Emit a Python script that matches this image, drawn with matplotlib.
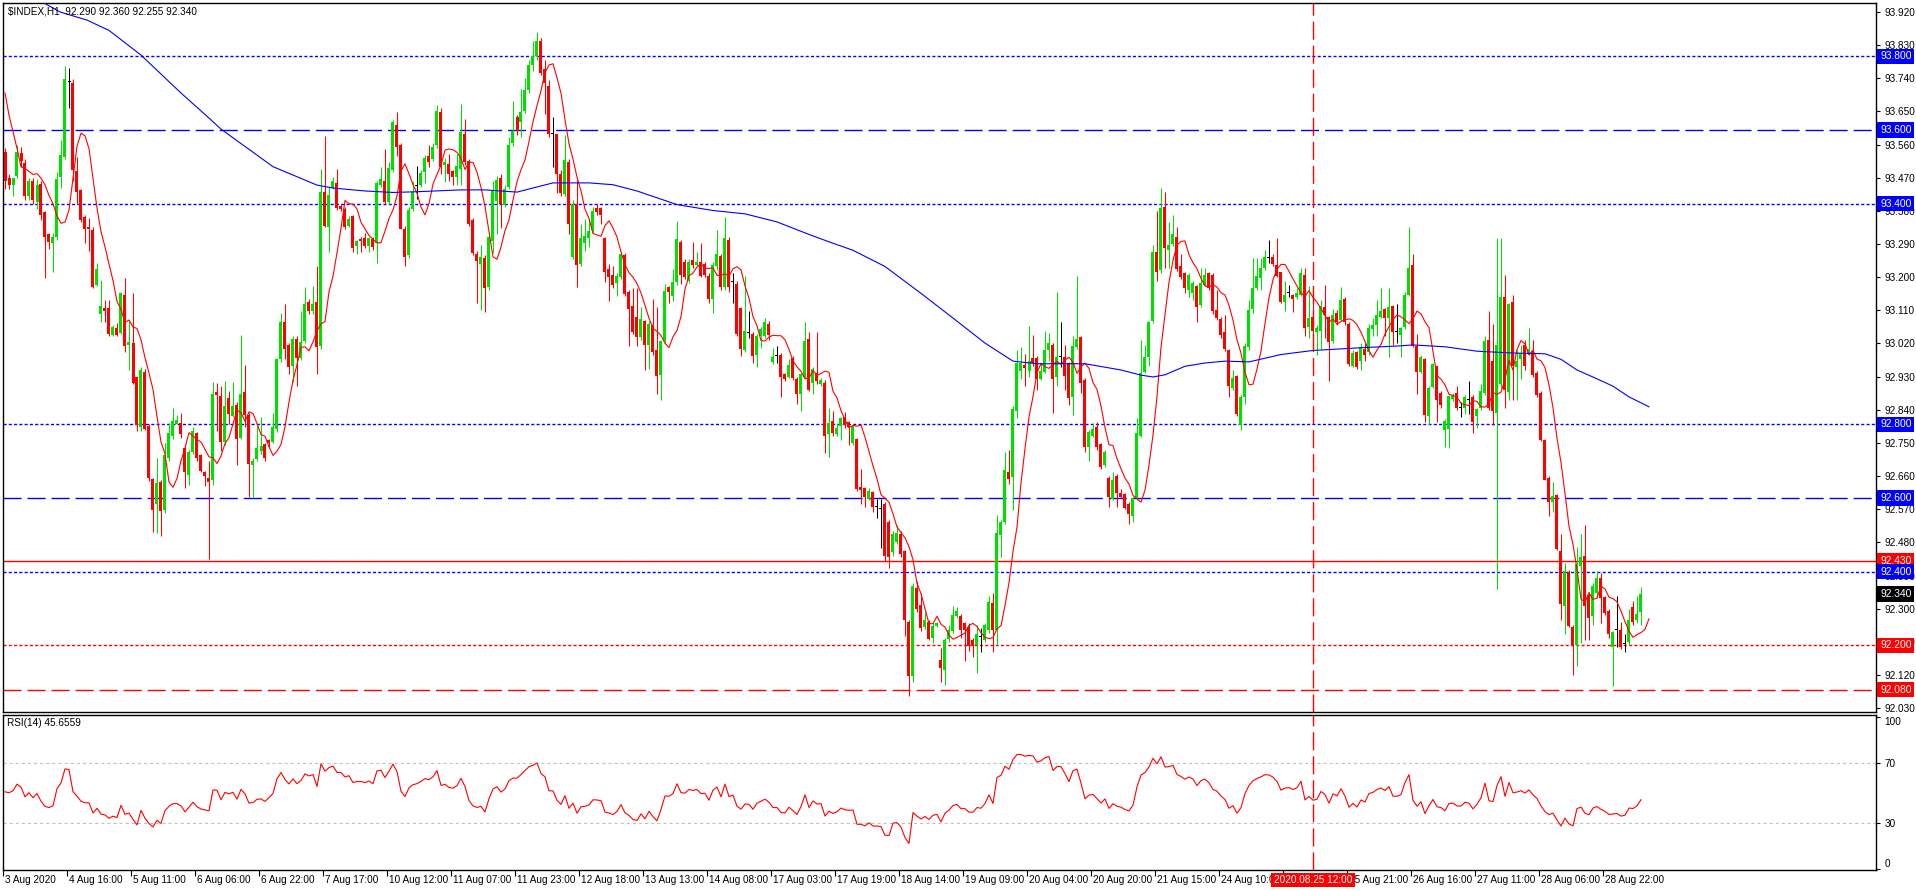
"""$INDEX H1 chart (MT4 style): candles, two moving averages, level lines and RSI(14)."""

import numpy as np
import matplotlib
matplotlib.use("Agg")
import matplotlib.pyplot as plt
import matplotlib.transforms as mtransforms

plt.rcParams["font.family"] = ["Liberation Sans", "DejaVu Sans"]
plt.rcParams["lines.scale_dashes"] = False

# --- Data --------------------------------------------------------------------

SYMBOL_HEADER = "$INDEX,H1  92.290 92.360 92.255 92.340"
RSI_HEADER = "RSI(14) 45.6559"

OPEN = [
    93.54, 93.47, 93.45, 93.475, 93.537, 93.51, 93.42, 93.46, 93.405, 93.452,
    93.376, 93.316, 93.292, 93.309, 93.471, 93.525, 93.731, 93.727, 93.489, 93.437,
    93.364, 93.335, 93.329, 93.18, 93.101, 93.117, 93.117, 93.044, 93.062, 93.049,
    93.151, 93.017, 93.02, 92.928, 92.794, 92.943, 92.795, 92.652, 92.584, 92.645,
    92.569, 92.71, 92.768, 92.802, 92.804, 92.736, 92.663, 92.726, 92.776, 92.717,
    92.67, 92.656, 92.65, 92.889, 92.878, 92.752, 92.872, 92.823, 92.852, 92.763,
    92.889, 92.826, 92.69, 92.705, 92.729, 92.747, 92.758, 92.753, 92.787, 92.977,
    93.078, 93.015, 92.959, 93.032, 92.981, 93.027, 93.132, 93.107, 93.132, 93.013,
    93.43, 93.335, 93.442, 93.457, 93.394, 93.384, 93.338, 93.366, 93.285, 93.303,
    93.306, 93.285, 93.303, 93.292, 93.45, 93.46, 93.405, 93.49, 93.614, 93.56,
    93.33, 93.26, 93.384, 93.447, 93.451, 93.485, 93.53, 93.521, 93.558, 93.648,
    93.505, 93.507, 93.487, 93.471, 93.494, 93.589, 93.516, 93.355, 93.262, 93.237,
    93.251, 93.172, 93.299, 93.406, 93.47, 93.397, 93.445, 93.563, 93.636, 93.62,
    93.651, 93.709, 93.777, 93.80, 93.84, 93.766, 93.72, 93.588, 93.588, 93.479,
    93.426, 93.513, 93.254, 93.40, 93.237, 93.294, 93.305, 93.327, 93.388, 93.388,
    93.305, 93.221, 93.206, 93.184, 93.201, 93.26, 93.161, 93.123, 93.091, 93.037,
    93.08, 93.015, 93.071, 93.001, 92.934, 93.026, 93.172, 93.15, 93.187, 93.296,
    93.241, 93.19, 93.246, 93.234, 93.241, 93.237, 93.204, 93.142, 93.229, 93.258,
    93.172, 93.302, 93.187, 93.181, 93.116, 93.001, 93.049, 93.046, 92.988, 93.041,
    93.041, 93.073, 92.97, 92.985, 92.99, 92.936, 92.928, 92.981, 92.923, 92.884,
    92.928, 93.032, 92.914, 92.94, 92.91, 92.914, 92.774, 92.81, 92.774, 92.796,
    92.82, 92.807, 92.749, 92.761, 92.63, 92.628, 92.599, 92.616, 92.577, 92.57,
    92.585, 92.536, 92.454, 92.48, 92.502, 92.457, 92.265, 92.118, 92.357, 92.309,
    92.25, 92.265, 92.221, 92.254, 92.16, 92.134, 92.217, 92.238, 92.281, 92.279,
    92.26, 92.25, 92.216, 92.202, 92.224, 92.216, 92.241, 92.315, 92.241, 92.50,
    92.536, 92.67, 92.657, 92.836, 92.945, 92.962, 92.945, 92.98, 92.98, 92.924,
    92.943, 93.001, 93.016, 92.929, 92.982, 92.984, 92.967, 92.876, 93.011, 93.037,
    92.921, 92.738, 92.769, 92.793, 92.747, 92.691, 92.654, 92.599, 92.66, 92.614,
    92.612, 92.585, 92.551, 92.60, 92.769, 92.943, 92.982, 93.081, 93.268, 93.219,
    93.391, 93.275, 93.29, 93.309, 93.229, 93.21, 93.166, 93.158, 93.176, 93.125,
    93.18, 93.21, 93.205, 93.11, 93.087, 93.05, 93.001, 92.9, 92.932, 92.798,
    92.875, 93.011, 93.113, 93.171, 93.197, 93.224, 93.253, 93.255, 93.232, 93.213,
    93.132, 93.156, 93.152, 93.147, 93.152, 93.205, 93.064, 93.093, 93.05, 93.055,
    93.118, 93.093, 93.026, 93.103, 93.084, 93.142, 93.074, 92.958, 92.997, 92.972,
    93.006, 92.996, 93.06, 93.069, 93.093, 93.113, 93.09, 93.122, 93.05, 93.042,
    93.064, 93.152, 93.232, 93.013, 92.943, 92.977, 92.822, 92.903, 92.958, 92.885,
    92.786, 92.788, 92.868, 92.885, 92.846, 92.846, 92.866, 92.875, 92.822, 92.844,
    92.885, 93.03, 92.972, 92.832, 92.909, 93.145, 92.887, 93.132, 92.955, 92.977,
    93.016, 92.994, 93.0, 92.941, 92.885, 92.757, 92.654, 92.59, 92.609, 92.457,
    92.308, 92.399, 92.25, 92.202, 92.415, 92.444, 92.338, 92.279, 92.342, 92.383,
    92.331, 92.294, 92.197, 92.241, 92.241, 92.205, 92.209, 92.304, 92.27, 92.29,
]

HIGH = [
    93.55, 93.48, 93.47, 93.56, 93.554, 93.52, 93.47, 93.47, 93.466, 93.46,
    93.38, 93.32, 93.32, 93.486, 93.573, 93.772, 93.767, 93.738, 93.525, 93.44,
    93.37, 93.362, 93.335, 93.238, 93.192, 93.137, 93.137, 93.07, 93.075, 93.16,
    93.198, 93.081, 93.156, 92.93, 92.957, 92.95, 92.80, 92.655, 92.71, 92.65,
    92.749, 92.804, 92.846, 92.826, 92.831, 92.74, 92.73, 92.792, 92.78, 92.72,
    92.675, 92.70, 92.916, 92.913, 92.904, 92.918, 92.89, 92.916, 92.86, 93.044,
    92.962, 92.83, 92.71, 92.797, 92.819, 92.75, 92.76, 92.831, 92.98, 93.103,
    93.127, 93.02, 93.04, 93.04, 93.107, 93.172, 93.14, 93.175, 93.229, 93.495,
    93.583, 93.444, 93.471, 93.493, 93.40, 93.39, 93.366, 93.37, 93.30, 93.31,
    93.319, 93.31, 93.31, 93.46, 93.50, 93.549, 93.512, 93.626, 93.648, 93.565,
    93.34, 93.39, 93.461, 93.502, 93.49, 93.532, 93.56, 93.563, 93.667, 93.659,
    93.524, 93.535, 93.49, 93.535, 93.67, 93.63, 93.52, 93.36, 93.27, 93.288,
    93.26, 93.32, 93.462, 93.476, 93.48, 93.45, 93.58, 93.679, 93.64, 93.712,
    93.74, 93.79, 93.84, 93.865, 93.85, 93.79, 93.735, 93.636, 93.59, 93.49,
    93.586, 93.52, 93.41, 93.464, 93.344, 93.359, 93.359, 93.39, 93.40, 93.39,
    93.31, 93.237, 93.23, 93.21, 93.27, 93.265, 93.165, 93.17, 93.17, 93.12,
    93.085, 93.08, 93.142, 93.119, 93.03, 93.181, 93.175, 93.221, 93.352, 93.30,
    93.25, 93.25, 93.296, 93.269, 93.294, 93.24, 93.21, 93.24, 93.327, 93.262,
    93.363, 93.31, 93.21, 93.19, 93.12, 93.204, 93.108, 93.05, 93.045, 93.065,
    93.09, 93.08, 93.007, 93.013, 92.995, 92.94, 92.979, 92.985, 92.93, 92.94,
    93.078, 93.052, 92.955, 93.052, 92.925, 92.92, 92.844, 92.837, 92.80, 92.82,
    92.834, 92.81, 92.80, 92.764, 92.68, 92.63, 92.628, 92.62, 92.599, 92.599,
    92.59, 92.54, 92.51, 92.526, 92.51, 92.46, 92.27, 92.37, 92.376, 92.343,
    92.29, 92.27, 92.26, 92.265, 92.192, 92.22, 92.255, 92.306, 92.304, 92.285,
    92.265, 92.26, 92.22, 92.255, 92.247, 92.26, 92.333, 92.343, 92.555, 92.54,
    92.725, 92.73, 92.85, 93.001, 93.011, 92.992, 93.067, 93.042, 92.985, 92.967,
    93.055, 93.048, 93.02, 93.161, 93.077, 93.016, 92.97, 93.04, 93.203, 93.04,
    92.925, 92.785, 92.803, 92.806, 92.75, 92.73, 92.66, 92.672, 92.665, 92.625,
    92.615, 92.59, 92.605, 92.817, 93.03, 93.016, 93.08, 93.287, 93.381, 93.442,
    93.43, 93.35, 93.37, 93.336, 93.263, 93.215, 93.21, 93.19, 93.18, 93.225,
    93.225, 93.215, 93.21, 93.166, 93.092, 93.096, 93.005, 92.947, 92.935, 92.88,
    93.021, 93.137, 93.253, 93.253, 93.253, 93.273, 93.302, 93.263, 93.307, 93.215,
    93.19, 93.18, 93.155, 93.171, 93.224, 93.226, 93.176, 93.142, 93.07, 93.137,
    93.18, 93.095, 93.113, 93.11, 93.174, 93.145, 93.078, 93.001, 93.0, 93.021,
    93.021, 93.074, 93.089, 93.137, 93.171, 93.115, 93.171, 93.125, 93.127, 93.065,
    93.161, 93.336, 93.263, 93.045, 92.99, 92.98, 92.905, 92.967, 92.96, 92.89,
    92.815, 92.88, 92.885, 92.905, 92.861, 92.88, 92.919, 92.88, 92.845, 92.909,
    93.04, 93.108, 93.074, 93.307, 93.307, 93.205, 93.13, 93.152, 93.001, 93.016,
    93.03, 93.061, 93.03, 92.945, 92.89, 92.76, 92.66, 92.643, 92.612, 92.502,
    92.425, 92.405, 92.255, 92.468, 92.502, 92.527, 92.345, 92.37, 92.401, 92.396,
    92.335, 92.30, 92.24, 92.333, 92.265, 92.231, 92.30, 92.32, 92.333, 92.36,
]

LOW = [
    93.44, 93.44, 93.42, 93.47, 93.50, 93.41, 93.41, 93.40, 93.386, 93.355,
    93.197, 93.277, 93.214, 93.30, 93.442, 93.52, 93.66, 93.462, 93.398, 93.35,
    93.292, 93.272, 93.17, 93.175, 93.078, 93.078, 93.04, 93.04, 93.04, 93.045,
    92.996, 92.948, 92.91, 92.783, 92.783, 92.785, 92.647, 92.509, 92.506, 92.496,
    92.56, 92.70, 92.76, 92.80, 92.763, 92.627, 92.637, 92.72, 92.70, 92.67,
    92.634, 92.435, 92.637, 92.783, 92.729, 92.745, 92.80, 92.82, 92.69, 92.76,
    92.792, 92.603, 92.603, 92.70, 92.72, 92.70, 92.74, 92.75, 92.78, 92.97,
    92.977, 92.938, 92.916, 92.904, 92.975, 93.02, 93.10, 93.10, 92.938, 93.006,
    93.335, 93.268, 93.44, 93.382, 93.38, 93.33, 93.335, 93.268, 93.263, 93.268,
    93.28, 93.268, 93.275, 93.238, 93.445, 93.40, 93.40, 93.485, 93.53, 93.33,
    93.231, 93.253, 93.38, 93.411, 93.445, 93.456, 93.50, 93.515, 93.55, 93.479,
    93.459, 93.462, 93.451, 93.451, 93.451, 93.505, 93.339, 93.26, 93.131, 93.111,
    93.106, 93.165, 93.265, 93.316, 93.333, 93.39, 93.44, 93.555, 93.586, 93.58,
    93.645, 93.70, 93.76, 93.79, 93.75, 93.644, 93.58, 93.498, 93.428, 93.42,
    93.42, 93.316, 93.25, 93.172, 93.23, 93.271, 93.282, 93.32, 93.37, 93.344,
    93.187, 93.136, 93.17, 93.148, 93.195, 93.15, 93.013, 93.045, 93.013, 93.03,
    92.948, 92.951, 92.99, 92.884, 92.867, 93.02, 93.131, 93.134, 93.18, 93.181,
    93.195, 93.185, 93.226, 93.23, 93.20, 93.20, 93.13, 93.103, 93.22, 93.165,
    93.165, 93.16, 93.131, 93.04, 92.985, 92.996, 93.035, 92.968, 92.957, 93.007,
    93.035, 93.03, 92.965, 92.968, 92.876, 92.917, 92.925, 92.92, 92.855, 92.838,
    92.925, 92.89, 92.884, 92.91, 92.905, 92.722, 92.712, 92.77, 92.77, 92.757,
    92.79, 92.744, 92.745, 92.62, 92.585, 92.575, 92.594, 92.563, 92.546, 92.466,
    92.43, 92.41, 92.444, 92.475, 92.441, 92.226, 92.063, 92.10, 92.29, 92.24,
    92.245, 92.214, 92.207, 92.25, 92.10, 92.092, 92.21, 92.235, 92.275, 92.221,
    92.158, 92.186, 92.17, 92.124, 92.183, 92.21, 92.235, 92.183, 92.202, 92.44,
    92.53, 92.638, 92.567, 92.818, 92.924, 92.905, 92.928, 92.96, 92.893, 92.92,
    92.94, 92.972, 92.83, 92.904, 92.956, 92.895, 92.854, 92.827, 93.005, 92.885,
    92.725, 92.701, 92.765, 92.73, 92.68, 92.685, 92.575, 92.595, 92.575, 92.60,
    92.57, 92.531, 92.536, 92.595, 92.765, 92.94, 92.958, 93.075, 93.19, 93.21,
    93.224, 93.224, 93.285, 93.218, 93.195, 93.158, 93.147, 93.137, 93.079, 93.12,
    93.175, 93.165, 93.10, 93.085, 93.035, 93.0, 92.875, 92.895, 92.822, 92.786,
    92.856, 93.001, 93.103, 93.165, 93.166, 93.22, 93.239, 93.23, 93.20, 93.129,
    93.108, 93.145, 93.106, 93.14, 93.15, 93.04, 93.035, 93.011, 92.99, 93.006,
    93.035, 92.919, 93.02, 93.07, 93.08, 93.07, 92.958, 92.955, 92.95, 92.948,
    92.972, 92.99, 93.04, 93.04, 93.09, 93.04, 92.982, 93.016, 93.021, 92.982,
    93.06, 93.15, 93.01, 92.883, 92.94, 92.808, 92.798, 92.90, 92.808, 92.846,
    92.74, 92.735, 92.865, 92.84, 92.819, 92.829, 92.829, 92.778, 92.79, 92.84,
    92.88, 92.84, 92.798, 92.353, 92.90, 92.846, 92.866, 92.866, 92.866, 92.924,
    92.948, 92.99, 92.93, 92.875, 92.754, 92.648, 92.551, 92.563, 92.459, 92.27,
    92.231, 92.25, 92.12, 92.144, 92.207, 92.216, 92.214, 92.255, 92.328, 92.26,
    92.284, 92.221, 92.09, 92.197, 92.19, 92.183, 92.20, 92.255, 92.26, 92.255,
]

CLOSE = [
    93.46, 93.45, 93.47, 93.54, 93.515, 93.42, 93.46, 93.41, 93.449, 93.369,
    93.309, 93.295, 93.309, 93.466, 93.531, 93.738, 93.731, 93.49, 93.43, 93.355,
    93.331, 93.331, 93.172, 93.222, 93.122, 93.108, 93.046, 93.066, 93.043, 93.156,
    93.013, 93.025, 92.913, 92.799, 92.949, 92.789, 92.656, 92.569, 92.641, 92.564,
    92.717, 92.776, 92.81, 92.812, 92.775, 92.671, 92.724, 92.781, 92.71, 92.674,
    92.66, 92.645, 92.884, 92.88, 92.753, 92.849, 92.829, 92.849, 92.761, 92.884,
    92.826, 92.693, 92.70, 92.737, 92.741, 92.71, 92.749, 92.792, 92.977, 93.078,
    93.006, 92.957, 93.032, 92.981, 93.025, 93.127, 93.107, 93.127, 93.01, 93.43,
    93.34, 93.423, 93.461, 93.387, 93.386, 93.335, 93.357, 93.28, 93.297, 93.297,
    93.285, 93.306, 93.282, 93.457, 93.466, 93.403, 93.497, 93.62, 93.553, 93.33,
    93.256, 93.382, 93.43, 93.447, 93.482, 93.524, 93.513, 93.554, 93.651, 93.498,
    93.513, 93.479, 93.471, 93.501, 93.595, 93.513, 93.344, 93.266, 93.243, 93.254,
    93.17, 93.31, 93.434, 93.464, 93.40, 93.44, 93.558, 93.597, 93.597, 93.648,
    93.709, 93.777, 93.80, 93.84, 93.754, 93.726, 93.588, 93.588, 93.481, 93.428,
    93.518, 93.344, 93.40, 93.232, 93.305, 93.311, 93.325, 93.381, 93.378, 93.37,
    93.215, 93.201, 93.179, 93.204, 93.262, 93.153, 93.114, 93.052, 93.037, 93.086,
    93.015, 93.074, 92.996, 92.932, 93.026, 93.163, 93.159, 93.187, 93.303, 93.206,
    93.201, 93.241, 93.232, 93.241, 93.204, 93.206, 93.142, 93.232, 93.262, 93.172,
    93.305, 93.172, 93.187, 93.046, 93.004, 93.055, 93.049, 92.985, 93.041, 93.058,
    93.078, 93.044, 92.984, 92.985, 92.928, 92.923, 92.962, 92.925, 92.884, 92.936,
    93.026, 92.895, 92.951, 92.917, 92.92, 92.768, 92.805, 92.778, 92.79, 92.817,
    92.798, 92.793, 92.795, 92.625, 92.623, 92.602, 92.619, 92.577, 92.577, 92.57,
    92.444, 92.44, 92.502, 92.505, 92.449, 92.27, 92.118, 92.362, 92.299, 92.247,
    92.27, 92.218, 92.254, 92.261, 92.139, 92.214, 92.241, 92.284, 92.293, 92.241,
    92.241, 92.199, 92.199, 92.231, 92.224, 92.255, 92.318, 92.241, 92.505, 92.534,
    92.677, 92.651, 92.841, 92.967, 92.967, 92.953, 92.972, 92.968, 92.924, 92.945,
    93.001, 93.021, 92.924, 92.984, 92.982, 92.933, 92.871, 93.013, 93.032, 92.914,
    92.738, 92.779, 92.788, 92.738, 92.684, 92.725, 92.602, 92.648, 92.614, 92.602,
    92.573, 92.556, 92.60, 92.778, 92.941, 92.982, 93.079, 93.268, 93.215, 93.387,
    93.28, 93.287, 93.316, 93.222, 93.20, 93.171, 93.205, 93.185, 93.12, 93.185,
    93.205, 93.171, 93.108, 93.09, 93.042, 93.006, 92.904, 92.926, 92.829, 92.875,
    93.013, 93.11, 93.171, 93.203, 93.226, 93.255, 93.253, 93.236, 93.203, 93.132,
    93.152, 93.156, 93.142, 93.156, 93.21, 93.061, 93.09, 93.055, 93.062, 93.123,
    93.098, 93.023, 93.096, 93.079, 93.139, 93.077, 92.963, 92.994, 92.955, 93.011,
    92.99, 93.061, 93.071, 93.096, 93.108, 93.09, 93.12, 93.05, 93.05, 93.061,
    93.152, 93.226, 93.013, 92.943, 92.982, 92.827, 92.9, 92.963, 92.866, 92.854,
    92.81, 92.877, 92.88, 92.846, 92.846, 92.875, 92.866, 92.808, 92.841, 92.89,
    93.026, 92.846, 92.837, 93.016, 93.145, 92.893, 93.127, 92.958, 92.972, 92.994,
    92.958, 93.006, 92.935, 92.88, 92.757, 92.65, 92.59, 92.606, 92.461, 92.313,
    92.401, 92.253, 92.202, 92.42, 92.441, 92.308, 92.275, 92.362, 92.382, 92.328,
    92.289, 92.231, 92.236, 92.241, 92.197, 92.205, 92.269, 92.263, 92.286, 92.34,
]

# red MA values on the first bars (its window reaches back before the chart)
RED_MA_HEAD = [93.70, 93.64, 93.595, 93.55, 93.50, 93.495]

# slow (blue) moving average, read at bar positions
BLUE_MA_BAR = [8, 13.75, 20.5, 26, 34, 44, 51, 54, 67, 78, 82, 90, 97, 103, 114,
               120, 128, 137, 146, 152, 158, 168, 177, 185, 193, 201, 206, 212,
               220, 229, 237, 245, 252, 258, 270, 279, 284, 287, 290, 295, 300,
               305, 311, 319, 327, 340, 348, 352, 360, 368, 377, 385, 389, 393,
               398, 402, 406, 411]
BLUE_MA_VAL = [93.955, 93.92, 93.898, 93.87, 93.803, 93.70, 93.632, 93.602,
               93.50, 93.45, 93.442, 93.434, 93.43, 93.432, 93.437, 93.437,
               93.431, 93.456, 93.456, 93.451, 93.434, 93.397, 93.381, 93.372,
               93.35, 93.316, 93.296, 93.273, 93.229, 93.156, 93.089, 93.021,
               92.972, 92.965, 92.965, 92.948, 92.934, 92.929, 92.935, 92.958,
               92.967, 92.972, 92.97, 92.99, 93.001, 93.009, 93.013, 93.016,
               93.011, 92.999, 92.994, 92.992, 92.977, 92.948, 92.924, 92.904,
               92.875, 92.848]

PRICE_TICKS = [93.920, 93.830, 93.740, 93.650, 93.560, 93.470, 93.380, 93.290,
               93.200, 93.110, 93.020, 92.930, 92.840, 92.750, 92.660, 92.570,
               92.480, 92.390, 92.300, 92.210, 92.120, 92.030]

BLUE_LEVELS = [93.800, 93.600, 93.400, 92.800, 92.600, 92.400]
RED_LEVELS = [92.430, 92.200, 92.080]
CURRENT_PRICE = 92.340

TIME_LABELS = ["3 Aug 2020", "4 Aug 16:00", "5 Aug 11:00", "6 Aug 06:00",
               "6 Aug 22:00", "7 Aug 17:00", "10 Aug 12:00", "11 Aug 07:00",
               "11 Aug 23:00", "12 Aug 18:00", "13 Aug 13:00", "14 Aug 08:00",
               "17 Aug 03:00", "17 Aug 19:00", "18 Aug 14:00", "19 Aug 09:00",
               "20 Aug 04:00", "20 Aug 20:00", "21 Aug 15:00", "24 Aug 10:00",
               "25 Aug 05:00", "25 Aug 21:00", "26 Aug 16:00", "27 Aug 11:00",
               "28 Aug 06:00", "28 Aug 22:00"]
CURSOR_LABEL = "2020.08.25 12:00"
CURSOR_BAR = 327

RSI_LEVELS = [30, 70]

# --- Styles ------------------------------------------------------------------

BULL = "#00E000"
BEAR = "#FF0000"
DOJI = "#000000"
BLUE = "#0000FF"
RED = "#FF0000"
DOT = (2.2, 1.6)
DASH = (13.0, 4.3)
W, H = 1916, 891
BARS_PER_LABEL = 16


def px_box(x0, y0, x1, y1):
    return [x0 / W, 1 - y1 / H, (x1 - x0) / W, (y1 - y0) / H]


def rsi_wilder(close, period=14, seed_gain=0.031, seed_loss=0.030):
    out = np.empty(len(close))
    g, l = seed_gain, seed_loss
    out[0] = 100 - 100 / (1 + g / l)
    for k in range(1, len(close)):
        d = close[k] - close[k - 1]
        g = (g * (period - 1) + max(d, 0)) / period
        l = (l * (period - 1) + max(-d, 0)) / period
        out[k] = 100 - 100 / (1 + g / l)
    return out


def main():
    o, h, l, c = (np.array(a, float) for a in (OPEN, HIGH, LOW, CLOSE))
    h = np.maximum(h, np.maximum(o, c))
    l = np.minimum(l, np.minimum(o, c))
    n = len(c)
    x = np.arange(n)

    fig = plt.figure(figsize=(W / 100, H / 100), dpi=100, facecolor="white")
    ax = fig.add_axes(px_box(3, 3, 1876, 712))
    rx = fig.add_axes(px_box(3, 715, 1876, 870), sharex=ax)

    # candles
    cols = np.where(c > o, BULL, np.where(c < o, BEAR, DOJI))
    ax.vlines(x, l, h, colors=cols, lw=0.75, zorder=3)
    lo = np.minimum(o, c)
    ht = np.maximum(np.abs(c - o), 0.0028)
    ax.bar(x, ht, bottom=lo, width=0.75, color=cols, linewidth=0,
           antialiased=False, zorder=4)

    # fast MA: 5-bar SMA drawn 2 bars ahead, plus its visible head
    sma = np.convolve(c, np.ones(5) / 5, mode="valid")
    red_x = np.concatenate([np.arange(len(RED_MA_HEAD)), np.arange(len(sma)) + 6])
    red_y = np.concatenate([RED_MA_HEAD, sma])
    ax.plot(red_x, red_y, color=RED, lw=0.8, zorder=5)
    ax.plot(BLUE_MA_BAR, BLUE_MA_VAL, color=BLUE, lw=0.8, zorder=5)

    # horizontal levels
    line_style = {93.800: (BLUE, DOT), 93.600: (BLUE, DASH), 93.400: (BLUE, DOT),
                  92.800: (BLUE, DOT), 92.600: (BLUE, DASH), 92.400: (BLUE, DOT),
                  92.430: (RED, None), 92.200: (RED, DOT), 92.080: (RED, DASH)}
    for p in BLUE_LEVELS + RED_LEVELS:
        color, dashes = line_style[p]
        if dashes is None:
            ax.axhline(p, color=color, lw=1.0, zorder=2)
        else:
            ax.axhline(p, color=color, lw=1.0, dashes=dashes, zorder=2)

    # cursor line through both panes
    for a in (ax, rx):
        a.axvline(CURSOR_BAR, color=RED, lw=1.0, dashes=DASH, zorder=6)

    ax.set_xlim(-0.5, 467.75)
    ax.set_ylim(92.0194, 93.9444)

    # right price scale
    ax.yaxis.tick_right()
    ax.set_yticks(PRICE_TICKS)
    ax.set_yticklabels([f"{p:.3f}" for p in PRICE_TICKS])
    ax.tick_params(axis="y", direction="out", length=3, width=0.8, pad=3,
                   labelsize=7.2, colors="black")
    ax.tick_params(axis="x", bottom=False, labelbottom=False)

    lab_tr = mtransforms.blended_transform_factory(ax.transAxes, ax.transData)
    boxes = sorted([(p, BLUE) for p in BLUE_LEVELS] + [(p, RED) for p in RED_LEVELS]
                   + [(CURRENT_PRICE, "black")], key=lambda t: -t[0])
    for p, color in boxes:
        ax.text(1.0022, p, f"{p:.3f}", transform=lab_tr, color="white",
                fontsize=7.4, va="center", ha="left", clip_on=False, zorder=20,
                bbox=dict(boxstyle="square,pad=0.26", fc=color, ec="none"))

    ax.text(5 / 1873, 1 - 8 / 709, SYMBOL_HEADER, transform=ax.transAxes,
            fontsize=7.2, va="center", ha="left", zorder=10)

    # RSI pane
    rsi = rsi_wilder(c)
    rx.plot(x, rsi, color=RED, lw=0.8, zorder=5)
    for lev in RSI_LEVELS:
        rx.axhline(lev, color="#C0C0C0", lw=0.8, dashes=(2.2, 2.2), zorder=1)
    rx.set_ylim(-0.8, 101.5)
    rx.yaxis.tick_right()
    rx.set_yticks([0, 30, 70, 100])
    rx.set_yticklabels(["0", "30", "70", "100"])
    rx.tick_params(axis="y", direction="out", length=3, width=0.8, pad=3,
                   labelsize=7.2)
    tl = rx.get_yticklabels()
    tl[0].set_va("bottom")
    tl[-1].set_va("top")
    rx.text(4 / 1873, 1 - 8 / 155, RSI_HEADER, transform=rx.transAxes,
            fontsize=7.2, va="center", ha="left", zorder=10)

    # time scale
    tick_pos = [BARS_PER_LABEL * k - 0.5 for k in range(len(TIME_LABELS))]
    rx.set_xticks(tick_pos)
    rx.tick_params(axis="x", direction="out", length=4, width=0.8,
                   labelbottom=False)
    t_tr = mtransforms.blended_transform_factory(rx.transData, rx.transAxes) + \
        mtransforms.ScaledTranslation(0.02, -0.10, fig.dpi_scale_trans)
    for pos, txt in zip(tick_pos, TIME_LABELS):
        rx.text(pos, 0, txt, transform=t_tr, fontsize=7.2, ha="left",
                va="center", clip_on=False)
    c_tr = mtransforms.blended_transform_factory(rx.transData, rx.transAxes) + \
        mtransforms.ScaledTranslation(0, -0.10, fig.dpi_scale_trans)
    rx.text(CURSOR_BAR, 0, CURSOR_LABEL, transform=c_tr, fontsize=7.2,
            ha="center", va="center", color="white", clip_on=False, zorder=20,
            bbox=dict(boxstyle="square,pad=0.24", fc=RED, ec="none"))

    for a in (ax, rx):
        for s in a.spines.values():
            s.set_linewidth(1.0)
            s.set_color("black")

    fig.savefig("out.png", dpi=100, facecolor="white")


if __name__ == "__main__":
    main()
